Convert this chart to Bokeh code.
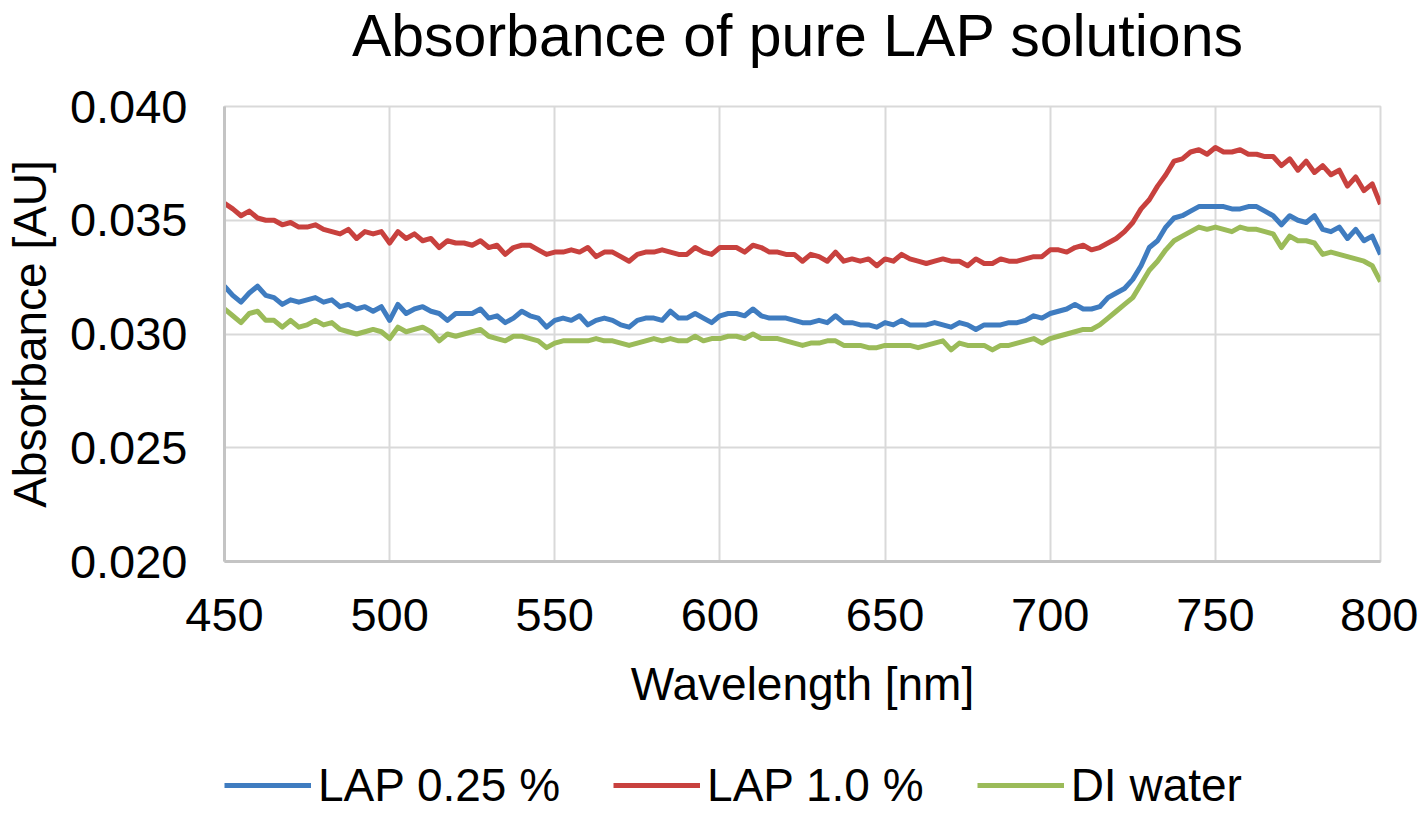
import numpy as np
from bokeh.plotting import figure
from bokeh.layouts import column
from bokeh.models import Range1d, FixedTicker, NumeralTickFormatter, Legend, LegendItem
from bokeh.embed import file_html
from bokeh.resources import INLINE

# wavelength grid [nm], 2.5 nm steps
wavelength = np.arange(450, 800.1, 2.5)

lap_025 = [
    0.0321, 0.0317, 0.0314, 0.0318, 0.0321, 0.0317, 0.0316, 0.0313, 0.0315, 0.0314,
    0.0315, 0.0316, 0.0314, 0.0315, 0.0312, 0.0313, 0.0311, 0.0312, 0.0310, 0.0312,
    0.0306, 0.0313, 0.0309, 0.0311, 0.0312, 0.0310, 0.0309, 0.0306, 0.0309,
    0.0309, 0.0309, 0.0311, 0.0307, 0.0308, 0.0305, 0.0307, 0.0310, 0.0308, 0.0307,
    0.0303, 0.0306, 0.0307, 0.0306, 0.0308, 0.0304, 0.0306, 0.0307, 0.0306, 0.0304,
    0.0303, 0.0306, 0.0307, 0.0307, 0.0306, 0.0310, 0.0307,
    0.0307, 0.0309, 0.0307, 0.0305, 0.0308, 0.0309, 0.0309, 0.0308, 0.0311, 0.0308,
    0.0307, 0.0307, 0.0307, 0.0306, 0.0305, 0.0305, 0.0306, 0.0305, 0.0308, 0.0305,
    0.0305, 0.0304, 0.0304, 0.0303, 0.0305, 0.0304, 0.0306, 0.0304, 0.0304,
    0.0304, 0.0305, 0.0304, 0.0303, 0.0305, 0.0304, 0.0302, 0.0304, 0.0304, 0.0304,
    0.0305, 0.0305, 0.0306, 0.0308, 0.0307, 0.0309, 0.0310, 0.0311, 0.0313, 0.0311,
    0.0311, 0.0312, 0.0316, 0.0318, 0.0320, 0.0324, 0.0330, 0.0338,
    0.0341, 0.0347, 0.0351, 0.0352, 0.0354, 0.0356, 0.0356, 0.0356, 0.0356, 0.0355,
    0.0355, 0.0356, 0.0356, 0.0354, 0.0352, 0.0348, 0.0352, 0.0350, 0.0349, 0.0352,
    0.0346, 0.0345, 0.0347, 0.0342, 0.0346, 0.0341, 0.0343, 0.0335,
]

lap_10 = [
    0.03575, 0.0355, 0.0352, 0.0354, 0.0351, 0.0350, 0.0350, 0.0348, 0.0349, 0.0347,
    0.0347, 0.0348, 0.0346, 0.0345, 0.0344, 0.0346, 0.0342, 0.0345, 0.0344, 0.0345,
    0.0340, 0.0345, 0.0342, 0.0344, 0.0341, 0.0342, 0.0338, 0.0341, 0.0340,
    0.0340, 0.0339, 0.0341, 0.0338, 0.0339, 0.0335, 0.0338, 0.0339, 0.0339, 0.0337,
    0.0335, 0.0336, 0.0336, 0.0337, 0.0336, 0.0338, 0.0334, 0.0336, 0.0336, 0.0334,
    0.0332, 0.0335, 0.0336, 0.0336, 0.0337, 0.0336, 0.0335,
    0.0335, 0.0338, 0.0336, 0.0335, 0.0338, 0.0338, 0.0338, 0.0336, 0.0339, 0.0338,
    0.0336, 0.0336, 0.0335, 0.0335, 0.0332, 0.0335, 0.0334, 0.0332, 0.0336, 0.0332,
    0.0333, 0.0332, 0.0333, 0.0330, 0.0333, 0.0332, 0.0335, 0.0333, 0.0332,
    0.0331, 0.0332, 0.0333, 0.0332, 0.0332, 0.0330, 0.0333, 0.0331, 0.0331, 0.0333,
    0.0332, 0.0332, 0.0333, 0.0334, 0.0334, 0.0337, 0.0337, 0.0336, 0.0338, 0.0339,
    0.0337, 0.0338, 0.0340, 0.0342, 0.0345, 0.0349, 0.0355, 0.0359,
    0.0365, 0.0370, 0.0376, 0.0377, 0.0380, 0.0381, 0.0379, 0.0382, 0.0380, 0.0380,
    0.0381, 0.0379, 0.0379, 0.0378, 0.0378, 0.0374, 0.0377, 0.0372, 0.0376, 0.0371,
    0.0374, 0.0370, 0.0372, 0.0365, 0.0369, 0.0363, 0.0366, 0.0357,
]

di_water = [
    0.0311, 0.0308, 0.0305, 0.0309, 0.0310, 0.0306, 0.0306, 0.0303, 0.0306, 0.0303,
    0.0304, 0.0306, 0.0304, 0.0305, 0.0302, 0.0301, 0.0300, 0.0301, 0.0302, 0.0301,
    0.0298, 0.0303, 0.0301, 0.0302, 0.0303, 0.0301, 0.0297, 0.0300, 0.0299,
    0.0300, 0.0301, 0.0302, 0.0299, 0.0298, 0.0297, 0.0299, 0.0299, 0.0298, 0.0297,
    0.0294, 0.0296, 0.0297, 0.0297, 0.0297, 0.0297, 0.0298, 0.0297, 0.0297, 0.0296,
    0.0295, 0.0296, 0.0297, 0.0298, 0.0297, 0.0298, 0.0297,
    0.0297, 0.0299, 0.0297, 0.0298, 0.0298, 0.0299, 0.0299, 0.0298, 0.0300, 0.0298,
    0.0298, 0.0298, 0.0297, 0.0296, 0.0295, 0.0296, 0.0296, 0.0297, 0.0297, 0.0295,
    0.0295, 0.0295, 0.0294, 0.0294, 0.0295, 0.0295, 0.0295, 0.0295, 0.0294,
    0.0295, 0.0296, 0.0297, 0.0293, 0.0296, 0.0295, 0.0295, 0.0295, 0.0293, 0.0295,
    0.0295, 0.0296, 0.0297, 0.0298, 0.0296, 0.0298, 0.0299, 0.0300, 0.0301, 0.0302,
    0.0302, 0.0304, 0.0307, 0.0310, 0.0313, 0.0316, 0.0322, 0.0328,
    0.0332, 0.0337, 0.0341, 0.0343, 0.0345, 0.0347, 0.0346, 0.0347, 0.0346, 0.0345,
    0.0347, 0.0346, 0.0346, 0.0345, 0.0344, 0.0338, 0.0343, 0.0341, 0.0341, 0.0340,
    0.0335, 0.0336, 0.0335, 0.0334, 0.0333, 0.0332, 0.0330, 0.0323,
]

series_names = ["LAP 0.25 %", "LAP 1.0 %", "DI water"]
colors = ["#3F7CC0", "#C8413E", "#9BBB59"]
x_ticks = [450, 500, 550, 600, 650, 700, 750, 800]
y_ticks = [0.020, 0.025, 0.030, 0.035, 0.040]

FONT = "Liberation Sans"


def blank(h):
    f = figure(width=1409, height=h, output_backend="svg", toolbar_location=None,
               x_axis_type=None, y_axis_type=None, min_border=0)
    f.grid.visible = False
    f.outline_line_color = None
    f.border_fill_color = "white"
    f.background_fill_color = "white"
    return f


# title strip
head = blank(76)
head.title.text = "Absorbance of pure LAP solutions"
head.title.align = "center"
head.title.text_font = FONT
head.title.text_font_size = "59px"
head.title.text_font_style = "normal"
head.title.text_color = "black"
head.title.standoff = 0

# main chart
p = figure(frame_width=1156, frame_height=455,
           x_range=Range1d(450, 800), y_range=Range1d(0.020, 0.040),
           x_axis_label="Wavelength [nm]", y_axis_label="Absorbance [AU]",
           output_backend="svg", toolbar_location=None,
           min_border_left=215, min_border_right=38, min_border_top=30, min_border_bottom=0)

p.xaxis.ticker = FixedTicker(ticks=x_ticks)
p.yaxis.ticker = FixedTicker(ticks=y_ticks)
p.yaxis.formatter = NumeralTickFormatter(format="0.000")

for ax in p.axis:
    ax.major_label_text_font = FONT
    ax.major_label_text_font_size = "47px"
    ax.major_label_text_color = "black"
    ax.axis_label_text_font = FONT
    ax.axis_label_text_font_size = "46px"
    ax.axis_label_text_font_style = "normal"
    ax.axis_label_text_color = "black"
    ax.major_tick_line_color = None
    ax.minor_tick_line_color = None
    ax.major_tick_out = 0
    ax.major_tick_in = 0
    ax.axis_line_color = "#c4c4c4"
    ax.axis_line_width = 3
p.xaxis.major_label_standoff = 37
p.yaxis.major_label_standoff = 37
p.xaxis.axis_label_standoff = 24
p.yaxis.axis_label_standoff = 11

p.grid.grid_line_color = "#d9d9d9"
p.grid.grid_line_width = 2
p.outline_line_color = "#d9d9d9"
p.outline_line_width = 2
p.background_fill_color = "white"
p.border_fill_color = "white"

for ys, c in zip([lap_025, lap_10, di_water], colors):
    p.line(wavelength, ys, line_color=c, line_width=5, line_join="round")

# legend strip: same series drawn out of view, only the legend shows
leg = blank(100)
leg.y_range = Range1d(1, 2)
items = []
for ys, name, c in zip([lap_025, lap_10, di_water], series_names, colors):
    r = leg.line(wavelength, ys, line_color=c, line_width=5)
    items.append(LegendItem(label=name, renderers=[r]))

legend = Legend(items=items, orientation="horizontal", location=(0, 0),
                label_text_font=FONT, label_text_font_size="46px", label_text_color="black",
                glyph_width=87, glyph_height=40, label_standoff=7, spacing=53,
                border_line_color=None, background_fill_alpha=0, margin=0, padding=0)
leg.add_layout(legend, "center")

layout = column(head, p, leg, spacing=0)

open("out.html", "w").write(file_html(layout, INLINE))
